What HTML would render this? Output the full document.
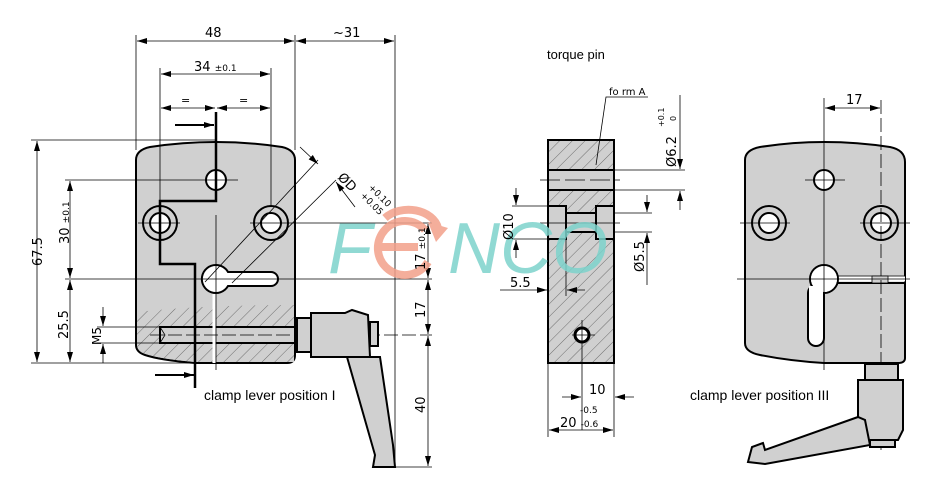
<!DOCTYPE html>
<html><head><meta charset="utf-8"><style>
html,body{margin:0;padding:0;background:#fff;}
svg{display:block;font-family:"DejaVu Sans","Liberation Sans",sans-serif;}
</style></head><body>
<svg width="933" height="497" viewBox="0 0 933 497" xmlns="http://www.w3.org/2000/svg">
<defs>
<pattern id="h" patternUnits="userSpaceOnUse" width="9" height="9" patternTransform="rotate(45)">
<rect width="9" height="9" fill="#d0d0d0"/><line x1="0" y1="0" x2="0" y2="9" stroke="#555" stroke-width="0.8"/></pattern>
<marker id="a" viewBox="0 0 10 6" refX="10" refY="3" markerWidth="10" markerHeight="6" orient="auto-start-reverse" markerUnits="userSpaceOnUse"><path d="M0,0L10,3L0,6z" fill="#000"/></marker>
</defs>
<g stroke="#000" fill="none" stroke-width="0.8">
<!-- LEFT VIEW -->
<path d="M136,160 Q136,150 150,147 Q216,137 282,147 Q295,150 295,160 L295,355 Q295,363 287,363 L195,363 Q160,360 145,355 Q136,352 136,345 Z" fill="#d0d0d0" stroke-width="2"/>
<path d="M137,312 Q200,305 294,305 L294,362 L195,362 Q160,359 146,354 Q137,351 137,344 Z" fill="url(#h)" stroke="none"/>
<rect x="160" y="327" width="135" height="16" fill="#d0d0d0" stroke-width="2"/>
<path d="M160,327 L165,335 L160,343" />
<line x1="214" y1="285" x2="214" y2="363" stroke="#fff" stroke-width="3"/>
<circle cx="216" cy="180" r="10" fill="#fff" stroke-width="2"/>
<circle cx="160" cy="223" r="17" stroke-width="2"/><circle cx="160" cy="223" r="10" fill="#fff" stroke-width="2"/>
<circle cx="271" cy="223" r="17" stroke-width="2"/><circle cx="271" cy="223" r="10" fill="#fff" stroke-width="2"/>
<path d="M216,265 A14,14 0 1 0 228,286 L271,286 A7,7 0 0 0 271,272 L228,272 A14,14 0 0 0 216,265 Z" fill="#fff" stroke-width="2"/>
<path d="M216,112 L216,201 L160,201 L160,264 L195,264 L195,388" stroke-width="2.5"/>
<line x1="175" y1="125" x2="214" y2="125" stroke-width="2" marker-end="url(#a)"/>
<line x1="155" y1="375" x2="194" y2="375" stroke-width="2" marker-end="url(#a)"/>
<line x1="138" y1="223" x2="180" y2="223"/><line x1="250" y1="223" x2="432" y2="223"/>
<line x1="65" y1="180" x2="238" y2="180"/>
<line x1="65" y1="279" x2="432" y2="279"/>
<line x1="216" y1="215" x2="216" y2="370"/>
<line x1="150" y1="335" x2="432" y2="335" stroke-dasharray="14,4"/>
<rect x="297" y="318" width="15" height="34" fill="#d0d0d0" stroke-width="2"/>
<path d="M311,313 L345,313 L352,310 L368,315 L370,357 L311,357 Z" fill="#d0d0d0" stroke-width="2"/>
<rect x="370" y="322" width="8" height="24" fill="#d0d0d0" stroke-width="2"/>
<path d="M347,357 L375,455 L373,467 L395,467 L393,445 L380,357 Z" fill="#d0d0d0" stroke-width="2"/>
<line x1="136" y1="35" x2="136" y2="150"/><line x1="295" y1="35" x2="295" y2="150"/><line x1="395" y1="35" x2="395" y2="467"/>
<line x1="137" y1="41" x2="294" y2="41" marker-start="url(#a)" marker-end="url(#a)"/>
<line x1="296" y1="41" x2="394" y2="41" marker-start="url(#a)" marker-end="url(#a)"/>
<line x1="160" y1="68" x2="160" y2="264"/><line x1="271" y1="68" x2="271" y2="205"/>
<line x1="161" y1="74" x2="270" y2="74" marker-start="url(#a)" marker-end="url(#a)"/>
<line x1="161" y1="108" x2="215" y2="108" marker-start="url(#a)" marker-end="url(#a)"/>
<line x1="217" y1="108" x2="270" y2="108" marker-start="url(#a)" marker-end="url(#a)"/>
<line x1="31" y1="140" x2="216" y2="140"/><line x1="31" y1="363" x2="195" y2="363"/>
<line x1="37" y1="141" x2="37" y2="362" marker-start="url(#a)" marker-end="url(#a)"/>
<line x1="70" y1="181" x2="70" y2="278" marker-start="url(#a)" marker-end="url(#a)"/>
<line x1="70" y1="280" x2="70" y2="362" marker-start="url(#a)" marker-end="url(#a)"/>
<line x1="97" y1="327" x2="160" y2="327"/><line x1="97" y1="343" x2="160" y2="343"/>
<line x1="103" y1="307" x2="103" y2="326" marker-end="url(#a)"/><line x1="103" y1="363" x2="103" y2="344" marker-end="url(#a)"/>
<line x1="428" y1="224" x2="428" y2="278" marker-start="url(#a)" marker-end="url(#a)"/>
<line x1="428" y1="280" x2="428" y2="334" marker-start="url(#a)" marker-end="url(#a)"/>
<line x1="428" y1="336" x2="428" y2="466" marker-start="url(#a)" marker-end="url(#a)"/>
<line x1="395" y1="467" x2="432" y2="467"/>
<line x1="205" y1="282" x2="318" y2="160"/><line x1="232" y1="283" x2="336" y2="180"/>
<line x1="300" y1="147" x2="318" y2="164" marker-end="url(#a)"/><line x1="355" y1="207" x2="336" y2="182" marker-end="url(#a)"/>
<!-- TORQUE PIN -->
<rect x="548" y="140" width="66" height="223" fill="url(#h)" stroke-width="2"/>
<rect x="548" y="170" width="66" height="20" fill="#d0d0d0" stroke-width="2"/>
<path d="M548,206 L566,206 L566,213 L596,213 L596,206 L614,206 L614,239 L596,239 L596,232 L566,232 L566,239 L548,239 Z" fill="#d0d0d0" stroke-width="2"/>
<line x1="566" y1="206" x2="566" y2="239" stroke-width="2"/><line x1="596" y1="206" x2="596" y2="239" stroke-width="2"/>
<line x1="540" y1="180" x2="620" y2="180" stroke-dasharray="20,5"/>
<line x1="540" y1="223" x2="620" y2="223"/>
<circle cx="582" cy="335" r="7" fill="#fff" stroke-width="3"/>
<line x1="582" y1="320" x2="582" y2="430"/><line x1="572" y1="335" x2="595" y2="335"/>
<line x1="566" y1="239" x2="566" y2="296"/>
<line x1="614" y1="170" x2="685" y2="170"/><line x1="614" y1="190" x2="685" y2="190"/>
<line x1="680" y1="95" x2="680" y2="169" marker-end="url(#a)"/><line x1="680" y1="210" x2="680" y2="191" marker-end="url(#a)"/>
<line x1="512" y1="206" x2="548" y2="206"/><line x1="512" y1="239" x2="548" y2="239"/>
<line x1="516" y1="188" x2="516" y2="205" marker-end="url(#a)"/><line x1="516" y1="258" x2="516" y2="240" marker-end="url(#a)"/>
<line x1="614" y1="213" x2="652" y2="213"/><line x1="614" y1="232" x2="652" y2="232"/>
<line x1="647" y1="195" x2="647" y2="212" marker-end="url(#a)"/><line x1="647" y1="285" x2="647" y2="233" marker-end="url(#a)"/>
<line x1="500" y1="290" x2="547" y2="290" marker-end="url(#a)"/><line x1="585" y1="290" x2="567" y2="290" marker-end="url(#a)"/>
<line x1="548" y1="363" x2="548" y2="437"/><line x1="614" y1="363" x2="614" y2="437"/>
<line x1="562" y1="397" x2="581" y2="397" marker-end="url(#a)"/><line x1="634" y1="397" x2="615" y2="397" marker-end="url(#a)"/>
<line x1="549" y1="430" x2="613" y2="430" marker-start="url(#a)" marker-end="url(#a)"/>
<path d="M648,97 L606,97 L596,165"/>
<!-- RIGHT VIEW -->
<path d="M745,160 Q745,150 760,147 Q824,137 890,147 Q905,150 905,162 L905,358 Q905,363 898,363 L824,363 Q790,361 760,355 Q745,352 745,343 Z" fill="#d0d0d0" stroke-width="2"/>
<line x1="838" y1="279" x2="905" y2="279" stroke="#fff" stroke-width="5"/>
<line x1="838" y1="276" x2="905" y2="276"/><line x1="838" y1="283" x2="905" y2="283" stroke-width="2"/>
<rect x="872" y="276" width="16" height="7" fill="#d0d0d0"/>
<circle cx="824" cy="180" r="10" fill="#fff" stroke-width="2"/>
<circle cx="769" cy="223" r="17" stroke-width="2"/><circle cx="769" cy="223" r="10" fill="#fff" stroke-width="2"/>
<circle cx="881" cy="223" r="17" stroke-width="2"/><circle cx="881" cy="223" r="10" fill="#fff" stroke-width="2"/>
<circle cx="824" cy="279" r="14" fill="#fff" stroke-width="2"/>
<rect x="808" y="285" width="16" height="61" rx="8" fill="#fff" stroke-width="2"/>
<circle cx="824" cy="279" r="13" fill="#fff" stroke="none"/>
<rect x="809" y="286" width="14" height="40" fill="#fff" stroke="none"/>
<line x1="805" y1="180" x2="845" y2="180"/><line x1="740" y1="223" x2="790" y2="223"/><line x1="860" y1="223" x2="910" y2="223"/>
<line x1="737" y1="279" x2="910" y2="279"/>
<line x1="824" y1="98" x2="824" y2="370"/><line x1="881" y1="100" x2="881" y2="450" stroke-dasharray="14,4"/>
<line x1="825" y1="108" x2="880" y2="108" marker-start="url(#a)" marker-end="url(#a)"/>
<rect x="865" y="364" width="33" height="16" fill="#d0d0d0" stroke-width="2"/>
<path d="M858,380 L903,380 L903,430 L898,440 L866,440 L858,418 Z" fill="#d0d0d0" stroke-width="2"/>
<rect x="870" y="440" width="25" height="7" fill="#d0d0d0" stroke-width="2"/>
<path d="M858,417 L765,450 L763,443 L752,447 L748,462 L765,464 L870,445 L865,420 Z" fill="#d0d0d0" stroke-width="2"/>
</g>
<g opacity="0.85">
<text x="328" y="273" font-size="72" font-style="italic" fill="#7dd3cc" font-family="Liberation Sans,sans-serif">F</text>
<path d="M425,230 A27,27 0 1 0 428,262" stroke="#f3a08a" stroke-width="8" fill="none"/>
<line x1="375" y1="247" x2="418" y2="247" stroke="#f3a08a" stroke-width="8"/>
<path d="M385,218 A30,22 0 0 1 438,228" stroke="#f3a08a" stroke-width="8" fill="none"/>
<path d="M428,222 L448,228 L436,242 Z" fill="#f3a08a"/>
<text x="448" y="273" font-size="72" font-style="italic" fill="#7dd3cc" font-family="Liberation Sans,sans-serif">NCO</text>
</g>
<g font-family="DejaVu Sans,Liberation Sans,sans-serif" fill="#000">
<text x="205" y="37" font-size="13">48</text>
<text x="333" y="37" font-size="13">~31</text>
<text x="194" y="71" font-size="13">34 <tspan font-size="9">±0.1</tspan></text>
<text x="181" y="104" font-size="11">=</text><text x="239" y="104" font-size="11">=</text>
<text x="204" y="400" font-size="14" font-family="Liberation Sans,sans-serif">clamp lever position  I</text>
<text transform="translate(42,266) rotate(-90)" font-size="13">67.5</text>
<text transform="translate(69,244) rotate(-90)" font-size="13">30 <tspan font-size="9">±0.1</tspan></text>
<text transform="translate(68,339) rotate(-90)" font-size="13">25.5</text>
<text transform="translate(101,345) rotate(-90)" font-size="12">M5</text>
<text transform="translate(425,270) rotate(-90)" font-size="13">17 <tspan font-size="9">±0.1</tspan></text>
<text transform="translate(425,318) rotate(-90)" font-size="13">17</text>
<text transform="translate(425,413) rotate(-90)" font-size="13">40</text>
<text transform="translate(337,178) rotate(45)" font-size="13">ØD</text>
<text transform="translate(368,188) rotate(45)" font-size="9">+0.10</text>
<text transform="translate(360,196) rotate(45)" font-size="9">+0.05</text>
<text x="547" y="59" font-size="13" font-family="Liberation Sans,sans-serif">torque pin</text>
<text x="609" y="95" font-size="10">fo rm  A</text>
<text transform="translate(676,167) rotate(-90)" font-size="13">Ø6.2</text>
<text transform="translate(664,127) rotate(-90)" font-size="8">+0.1</text>
<text transform="translate(676,121) rotate(-90)" font-size="8">0</text>
<text transform="translate(513,240) rotate(-90)" font-size="13">Ø10</text>
<text transform="translate(644,272) rotate(-90)" font-size="13">Ø5.5</text>
<text x="510" y="287" font-size="13">5.5</text>
<text x="589" y="394" font-size="13">10</text>
<text x="580" y="413" font-size="9">-0.5</text>
<text x="560" y="427" font-size="13">20 <tspan font-size="9">-0.6</tspan></text>
<text x="846" y="104" font-size="13">17</text>
<text x="690" y="400" font-size="14" font-family="Liberation Sans,sans-serif">clamp lever position  III</text>
</g>
</svg>
</body></html>
